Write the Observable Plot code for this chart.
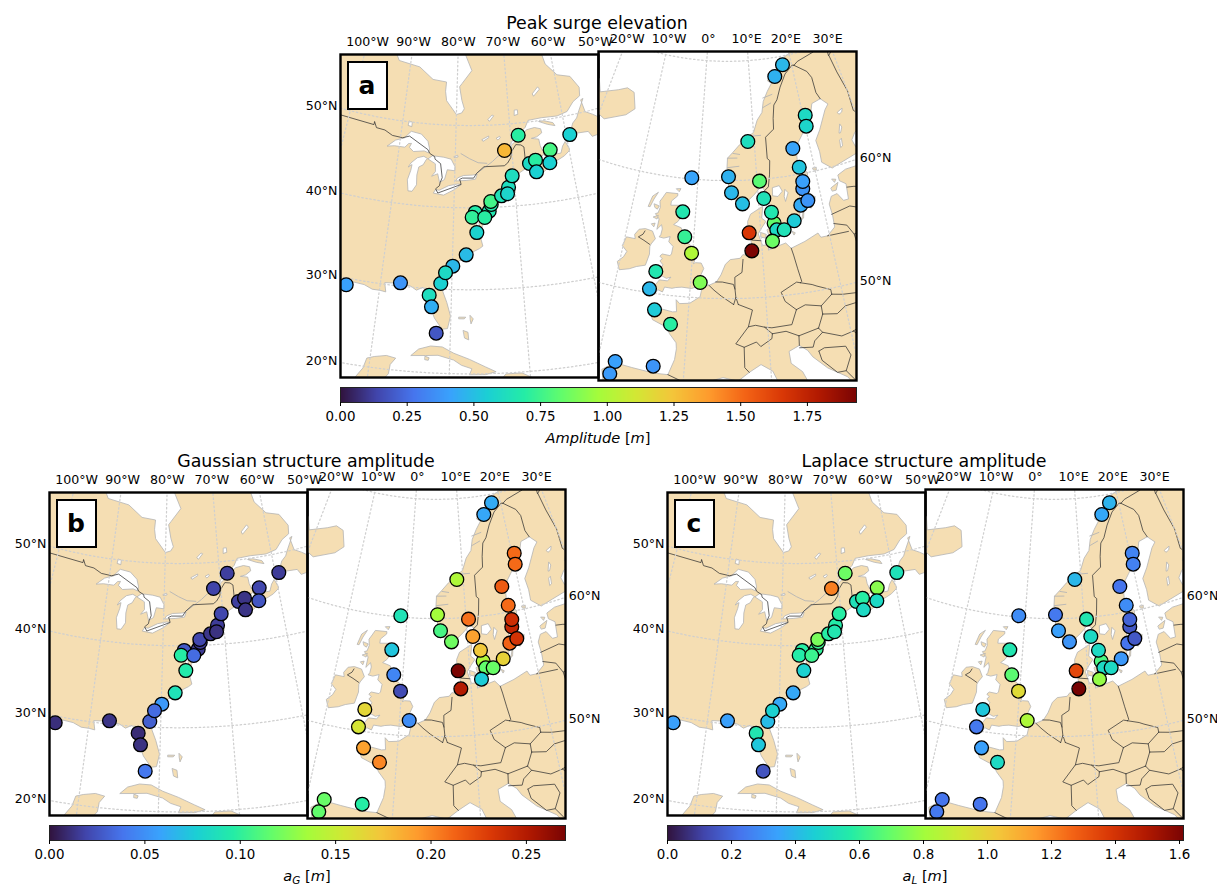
<!DOCTYPE html><html><head><meta charset="utf-8">
<script src="https://cdn.jsdelivr.net/npm/d3@7"></script>
<script src="https://cdn.jsdelivr.net/npm/@observablehq/plot@0.6"></script>
<style>
html,body{margin:0;background:#fff}
#fig{position:relative;width:1217px;height:884px;overflow:hidden;font-family:"DejaVu Sans",sans-serif;color:#000}
#fig>svg,#fig>div{position:absolute}
.ttl{font-size:17.4px;text-align:center;white-space:nowrap;transform:translateX(-50%)}
.cbl{font-size:14.6px;line-height:1.1;text-align:center;white-space:nowrap;transform:translateX(-50%)}
.cbl sub{font-size:10.5px;line-height:0;vertical-align:-2.5px}
.tag{box-sizing:border-box;background:#fff;border:2.4px solid #000;font-weight:bold;font-size:25px;display:flex;align-items:center;justify-content:center}
</style></head><body><div id="fig"></div>
<script>
// ---------- station data (lon/lat) ----------
const usLon=[-94.65,-87.21,-83.08,-82.67,-81.86,-81.55,-79.92,-80.94,-77.99,-76.38,-76.60,-74.37,-74.01,-77.08,-75.10,-74.06,-72.28,-71.04,-71.28,-70.29,-71.29,-68.61,-67.15,-66.05,-66.13,-63.26,-63.67,-59.35];
const usLat=[29.20,30.40,29.20,27.82,24.70,30.69,32.84,32.01,34.25,36.97,39.43,39.55,40.36,38.85,38.79,40.73,41.36,42.35,41.56,43.71,46.85,48.55,45.00,45.31,43.89,46.31,44.76,47.71];
const euLon=[17.93,15.72,20.46,20.17,8.81,16.91,17.44,-1.08,5.17,10.41,17.37,17.59,5.66,10.88,16.60,17.82,7.40,-2.01,12.13,11.89,15.21,12.42,13.52,8.25,-1.34,11.61,8.51,-0.16,-4.85,1.31,-5.35,-4.31,-2.10,-7.98,-3.58,-8.32];
const euLat=[69.29,68.44,64.78,63.86,63.26,62.24,60.58,60.11,60.33,59.85,58.73,59.34,58.97,58.35,57.39,57.67,58.01,57.16,56.18,57.13,56.17,55.60,55.53,55.53,55.07,54.68,53.99,53.73,51.86,51.30,50.33,48.64,47.60,43.85,43.96,42.77];
// peak surge elevation [m]
const ampUS=[.41,.37,.62,.45,.19,.56,.48,.6,.49,.57,.68,.66,.68,.72,.7,.76,.64,.62,.58,.62,1.29,.7,.6,.7,.56,.77,.56,.56];
const ampEU=[.48,.46,.6,.58,.62,.42,.52,.42,.46,.81,.37,.41,.48,.64,.44,.37,.5,.66,.83,.66,.54,.6,.64,1.66,.73,.85,1.93,1.0,.66,.89,.48,.54,.7,.41,.37,.39];
// Gaussian structure amplitude a_G [m]
const gaussUS=[.011,.013,.01,.012,.04,.03,.054,.035,.089,.095,.027,.015,.016,.097,.035,.02,.0135,.016,.012,.02,.019,.017,.017,.013,.013,.02,.026,.016];
const gaussEU=[.062,.06,.21,.21,.14,.216,.21,.09,.135,.208,.243,.238,.108,.19,.213,.235,.12,.073,.14,.173,.167,.116,.118,.27,.046,.076,.25,.022,.165,.049,.157,.19,.2,.118,.097,.116];
// Laplace structure amplitude a_L [m]
const lapUS=[.34,.34,.55,.44,.15,.41,.36,.47,.36,.47,.58,.6,.62,.57,.62,.73,.58,.57,.55,.58,1.21,.71,.53,.58,.5,.76,.5,.53];
const lapEU=[.39,.36,.27,.26,.4,.23,.29,.29,.24,.55,.16,.19,.34,.5,.23,.16,.31,.55,.65,.5,.32,.5,.5,1.34,.68,.78,1.62,.97,.44,.83,.24,.34,.5,.23,.23,.24];
// ---------- colour stops (turbo) ----------
const turbo=["#30123b","#4145ab","#4675ed","#39a2fc","#1bcfd4","#24eca6","#61fc6c","#a4fc3b","#d1e834","#f3c63a","#fe9b2d","#f36315","#d93806","#b11901","#7a0403"];
// ---------- ticks ----------
const usLonTicks=[-100,-90,-80,-70,-60,-50], usLatTicks=[20,30,40,50];
const euLonTicks=[-20,-10,0,10,20,30], euLatTicks=[50,60];
const ampTicks=[0,.25,.5,.75,1,1.25,1.5,1.75], gaussTicks=[0,.05,.1,.15,.2,.25], lapTicks=[0,.2,.4,.6,.8,1,1.2,1.4,1.6];
// ---------- geography (lon,lat rings) ----------
const naMain=[[-120,14],[-92,14],[-88,15.7],[-88.6,17.5],[-88.3,18.5],[-87.5,19.5],[-87.4,20.6],[-86.8,21.4],[-88,21.6],[-89.5,21.3],[-90.4,21],[-90.7,19.8],[-91.5,18.6],[-93,18.4],[-94.5,18.2],[-95.8,18.8],[-97,20],[-97.8,22.3],[-97.7,24.5],[-97.2,26],[-97.4,27.5],[-96,28.5],[-94.7,29.4],[-93.8,29.7],[-92.2,29.6],[-91,29.2],[-89.9,29.2],[-89.1,29.1],[-89.4,30.2],[-88,30.3],[-87,30.4],[-85.7,30.1],[-84.9,29.7],[-84,30.1],[-83,29.1],[-82.7,28],[-82.7,27.5],[-82.2,26.5],[-81.7,25.9],[-81.1,25.2],[-80.4,25.3],[-80.05,26.8],[-80.6,28.4],[-81.3,29.9],[-81.4,30.7],[-81.2,31.6],[-80.7,32.3],[-79.6,33],[-79,33.5],[-78,33.9],[-77,34.6],[-76,35],[-75.5,35.3],[-75.8,36.3],[-76,36.9],[-76.3,37],[-76.4,38],[-76.5,39.2],[-76,39.5],[-76,38],[-75.9,37.2],[-75.3,38],[-75.1,38.7],[-75.5,39.5],[-74.9,39],[-74.2,39.6],[-74,40.5],[-72.8,40.7],[-71.9,41.05],[-72.8,41.05],[-73.7,40.9],[-72.5,41.27],[-71.4,41.4],[-70.7,41.6],[-70,41.65],[-70,42.05],[-70.6,41.95],[-71,42.3],[-70.7,42.7],[-70.6,43.2],[-70.2,43.7],[-69,44],[-68,44.4],[-67,44.8],[-66.9,45.1],[-65.8,45.3],[-64.8,45.7],[-64.5,45.9],[-64.1,45.4],[-64.5,45.3],[-65.8,44.6],[-66.2,44],[-65.6,43.5],[-64.6,43.9],[-63.5,44.6],[-62,45],[-61,45.3],[-60,45.8],[-59.9,46],[-60.4,47],[-61,46.5],[-61.5,45.7],[-62.5,45.7],[-63.8,45.9],[-64.6,46.3],[-64.9,47],[-65,47.8],[-65.7,47.9],[-66.3,48],[-65.3,48.1],[-64.3,48.5],[-64.4,49],[-65.5,49.25],[-67,49.1],[-68,48.5],[-69.5,47.7],[-70.8,47],[-71.1,46.85],[-70.5,47.2],[-69.7,48],[-68.5,48.7],[-67.2,49.4],[-66.5,50.2],[-64,50.3],[-61,50.2],[-59,50.5],[-57.5,51.5],[-56,52],[-55.7,53],[-57,54.5],[-59.5,55],[-61.5,56.5],[-62,58],[-64,60],[-65,60.3],[-68,58.7],[-70,58.8],[-70,61],[-72,61.7],[-74,62.2],[-78,62.5],[-78,60.5],[-77.5,59],[-78.5,58.5],[-77,56.5],[-79,55],[-79.5,54.6],[-79,53],[-78.5,52],[-79,51.5],[-80,51.3],[-82,52.9],[-82.3,54],[-82.2,55.1],[-85,55.3],[-88,56.6],[-92.5,57],[-94.5,58.8],[-94.7,60],[-93,62],[-90,63.5],[-87,65],[-100,70],[-120,70]];
const newfoundland=[[-59.3,47.6],[-58,47.7],[-56,47.6],[-55.5,46.9],[-54,47],[-53.1,46.7],[-52.7,47.5],[-53.5,48.2],[-53,48.7],[-54.5,49.5],[-55.7,50],[-56,51.5],[-55.5,51.6],[-56.8,50.3],[-57.5,49.5],[-58.4,49],[-58.8,48.5]];
const anticosti=[[-64.5,49.9],[-63,49.4],[-61.7,49.1],[-62,49.5],[-63.6,49.9]];
const pei=[[-64.4,46.7],[-63,46.4],[-62,46.4],[-62.5,46],[-64,46.3]];
const cuba=[[-84.9,21.9],[-84,22.7],[-82.5,23.15],[-81,23.1],[-79.5,22.4],[-77.5,21.7],[-75.5,20.8],[-74.2,20.2],[-75.5,19.9],[-77.5,19.9],[-77.2,20.6],[-78.5,21],[-79.5,21.6],[-81.5,22.1],[-83,22]];
const hispaniola=[[-74.4,18.4],[-73,19.9],[-71,19.9],[-68.5,18.6],[-71,18]];
const jamaica=[[-78.3,18.4],[-76.3,18.1],[-77,17.8]];
const juventud=[[-83.1,21.9],[-82.6,21.75],[-82.7,21.45],[-83.1,21.5]];
const andros=[[-78.3,25.1],[-77.7,24.9],[-77.6,24],[-78.1,24.2]];
const grandBahama=[[-78.9,26.7],[-78,26.7],[-78.2,26.5],[-78.9,26.5]];
const abaco=[[-77.4,26.9],[-77,26.5],[-77.3,25.9],[-77.4,26.4]];
const superior=[[-92.1,46.75],[-90.8,46.9],[-89,46.9],[-88.4,47.4],[-87.9,47.45],[-88.2,46.95],[-87.4,46.5],[-85.5,46.7],[-84.7,46.5],[-84.6,47],[-85,47.9],[-86.3,48.7],[-88.2,48.9],[-89.3,48],[-90.8,47.6]];
const michigan=[[-87.6,41.7],[-86.9,41.7],[-86.3,42.5],[-86.4,43.7],[-86.2,44.7],[-85.5,45],[-85,45.7],[-84.8,45.8],[-85.5,46.05],[-86.6,45.8],[-87.6,45.1],[-88,44.55],[-87.4,44.9],[-87.5,44.2],[-87.9,43]];
const huron=[[-84.7,45.8],[-83.4,45.2],[-83.3,44.3],[-83.9,43.7],[-82.9,44.05],[-82.5,43],[-81.7,43.4],[-81.3,44.6],[-80,44.5],[-80,45],[-80.7,45.9],[-82,46.1],[-84,46.2]];
const erie=[[-83.4,41.7],[-81.7,41.5],[-80,42.2],[-78.9,42.85],[-79.5,42.9],[-81,42.65],[-82.5,42.05],[-83.1,42.1]];
const ontario=[[-79.8,43.3],[-78,43.35],[-76.5,43.5],[-76.2,44.1],[-77,44],[-78.5,43.95],[-79.5,43.65]];
const nipigon=[[-88.9,49.6],[-88.2,49.5],[-88.2,50],[-88.8,50.1]];
const mistassini=[[-74,50.7],[-73.2,51.2],[-72.9,51.1],[-73.7,50.5]];
const manicouagan=[[-69,51],[-68.3,51.1],[-68.3,51.6],[-68.9,51.6]];
const stJohn=[[-72.6,48.4],[-72,48.6],[-71.9,48.4],[-72.3,48.2]];
const gouin=[[-75.2,48.3],[-74,48.7],[-74,48.5],[-75,48.1]];
const michikamau=[[-65,53.3],[-63.8,54],[-63.5,53.7],[-64.8,53]];
const nipissing=[[-80.2,46.2],[-79.6,46.4],[-79.5,46.2],[-80,46.1]];
const usCanada=[[-110,49],[-95.15,49],[-95.15,49.38],[-94.6,48.7],[-93,48.6],[-91.5,48.1],[-89.6,48],[-88.4,48.3],[-84.9,46.9],[-84.5,46.45],[-83.6,46.1],[-83.5,45.8],[-82.5,45.3],[-82.1,43.6],[-82.4,43],[-82.5,42.6],[-83.1,42.2],[-82.7,41.7],[-78.9,42.85],[-79.05,43.27],[-79.2,43.45],[-78.7,43.63],[-76.8,43.63],[-76.3,44.2],[-75,45],[-74.7,45],[-71.5,45],[-70.9,45.3],[-70.3,45.9],[-70,46.7],[-69.2,47.45],[-68.3,47.35],[-67.8,47.07],[-67.8,45.7],[-67.45,45.3],[-67,44.8]];
const stLawrence=[[-76.3,44.2],[-74.5,45.1],[-73.5,45.6],[-72.5,46.2],[-71.2,46.8]];
const ottawaRiver=[[-74.5,45.4],[-76,45.5],[-77.5,46],[-79,46.6]];
const euMain=[[-5.6,36],[-6.3,36.7],[-7.4,37.2],[-8.9,37],[-8.8,38.4],[-9.5,38.8],[-8.9,40.2],[-8.7,41.5],[-8.9,42.1],[-9.3,43],[-8,43.75],[-6,43.6],[-4,43.45],[-3,43.4],[-1.8,43.4],[-1.2,44.7],[-1.1,45.6],[-1.2,46.1],[-2.1,46.8],[-2.5,47.3],[-4.4,47.8],[-4.8,48.4],[-3.5,48.8],[-2,48.65],[-1.5,48.7],[-1.7,49.7],[-1.2,49.4],[.1,49.5],[1.4,50.1],[1.6,50.9],[2.5,51.1],[3.5,51.4],[4.1,52],[4.7,52.9],[5.4,53.3],[6.8,53.4],[7.2,53.7],[8.2,53.6],[8.6,53.9],[8.9,54.1],[8.6,54.4],[8.4,55],[8.1,55.6],[8.1,56.5],[8.6,57.1],[10.6,57.7],[10.3,56.7],[10.9,56.4],[10.2,55.9],[9.6,55.4],[9.9,54.8],[10.1,54.4],[11,54.4],[10.9,53.95],[12.2,54.2],[13.5,54.4],[14.2,53.9],[16.3,54.3],[18.4,54.8],[18.7,54.4],[19.7,54.4],[21,55],[21.1,56],[21,57],[21.6,57.6],[22.6,57.7],[23.3,57],[24.1,57],[24.4,58.3],[23.5,58.7],[23.5,59.2],[25,59.5],[28,59.5],[30.2,59.9],[28.5,60.6],[25,60.2],[22.9,59.9],[21.4,60.6],[21.5,61.5],[21.3,62.5],[22.5,63.3],[24.5,64.8],[25.4,65.2],[24.2,65.8],[22.3,65.6],[21.4,64.6],[19,63.2],[17.5,62.3],[17.3,61],[17.2,60.7],[18.7,60],[18.2,59.3],[16.7,58.6],[16.6,57.5],[16,56.2],[14.5,56],[14.2,55.4],[12.9,55.4],[12.5,56.3],[11.9,57.5],[11.2,59],[10.6,59.4],[9.5,58.8],[8,58.1],[6.8,58],[5.6,58.8],[5.2,59.4],[5.1,60.3],[6,60.7],[4.9,61],[5,61.9],[6,62.4],[7.2,63],[8.5,63.5],[10,64],[10.9,65],[12,65.6],[12.5,66.5],[13.6,67.3],[14.7,67.9],[15.5,68.3],[16,68.9],[17.5,69.3],[18.7,69.9],[20,70.1],[21.7,70.2],[23.5,70.8],[25.7,71.1],[28,71],[31,70.3],[45,68],[60,60],[60,40],[26,40.5],[24,37.8],[22,36.5],[21,38.5],[19.4,40.5],[19.4,41.5],[18.5,42.5],[16.5,43.5],[15,44.6],[14.5,45.2],[13.6,45.7],[12.3,45.3],[12.4,44.3],[13.6,43.5],[14.2,42.4],[16,41.8],[18.4,40.2],[17,40.4],[16.5,39.7],[17.1,39],[16,38],[15.7,38.2],[16.2,39.5],[15,40.2],[14.3,40.8],[12.5,41.4],[11,42.4],[10.2,43.8],[8.9,44.4],[7.5,43.8],[6.2,43.1],[4.5,43.4],[3.1,43.1],[3.2,41.9],[.8,41],[-.3,39.5],[.2,38.7],[-.7,37.6],[-2,36.8],[-4.5,36.7]];
const britain=[[-5.7,50.07],[-5.1,49.97],[-4.2,50.35],[-3.6,50.22],[-3.4,50.65],[-2.4,50.62],[-1.9,50.72],[-1.1,50.8],[.2,50.75],[1,50.95],[1.4,51.15],[.7,51.45],[1.25,51.8],[1.7,52.5],[1.3,52.95],[.5,52.95],[.2,52.85],[.35,53.05],[.1,53.5],[-.2,53.7],[-.1,54.1],[-.5,54.45],[-1.2,54.65],[-1.6,55.2],[-2,55.8],[-3.2,56],[-2.6,56.3],[-2,56.9],[-1.8,57.5],[-2.3,57.7],[-4,57.6],[-4,57.95],[-3.1,58.45],[-3.1,58.65],[-5,58.62],[-5.4,58.2],[-5.8,57.8],[-5.6,57.3],[-5.8,56.8],[-6.2,56.7],[-5.5,56.3],[-5.6,55.4],[-5,55.85],[-4.8,55.5],[-4.9,55],[-5.1,54.8],[-4.4,54.75],[-3.5,54.95],[-3.6,54.5],[-2.9,54.15],[-3,53.5],[-3.2,53.35],[-4.3,53.4],[-4.6,53.2],[-4.2,53],[-4.5,52.8],[-4,52.5],[-4.2,52.25],[-5.2,51.9],[-4.3,51.65],[-3.3,51.4],[-2.7,51.55],[-3.1,51.2],[-4.2,51.2],[-4.5,50.9],[-5,50.4]];
const ireland=[[-6.1,53.2],[-6.4,52.25],[-7.6,52],[-8.5,51.7],[-9.8,51.45],[-10.3,52.1],[-9.6,52.6],[-9.3,53.1],[-10.1,53.5],[-9.8,54.3],[-8.5,54.3],[-8.7,54.65],[-8.2,55.15],[-7.3,55.3],[-6.2,55.2],[-5.6,54.6],[-6.1,54.1],[-6.2,53.9]];
const iceland=[[-24.3,65.5],[-22.5,66.4],[-21.3,65.4],[-18,66.1],[-16.3,66.5],[-14.7,66.3],[-13.6,65],[-15,64.3],[-18.7,63.4],[-21,63.8],[-22.7,63.9],[-22,64.5],[-24,64.9],[-22.2,65.2]];
const lewis=[[-6.3,58.5],[-7.1,58.1],[-7.5,57.2],[-7.2,57.2],[-6.8,57.9]];
const skye=[[-6.6,57.5],[-5.8,57.4],[-6,57.1],[-6.4,57.2]];
const mull=[[-6.4,56.4],[-5.7,56.6],[-5.8,56.3]];
const islay=[[-6.5,55.8],[-6,55.9],[-6.1,55.6]];
const orkney=[[-3.4,59.05],[-2.7,59.1],[-2.9,58.85]];
const shetland=[[-1.6,60.5],[-1,60.6],[-1.2,60],[-1.4,60.1]];
const vesteralen=[[14,68.2],[15.5,68.9],[16,68.5],[14.6,68]];
const senja=[[17,69.3],[18,69.5],[18,69.15],[17.2,69]];
const hitra=[[8.3,63.6],[9,63.65],[9,63.45],[8.5,63.4]];
const zealand=[[11,55.7],[12.5,56.1],[12.5,55.3],[12,55],[11.2,55.2]];
const funen=[[10,55.5],[10.8,55.3],[10.6,55],[10,55.1]];
const lolland=[[11,54.85],[12,54.75],[11.9,54.6],[11,54.65]];
const bornholm=[[14.7,55.3],[15.1,55.15],[14.9,55]];
const gotland=[[18.1,57],[18.3,57.9],[19.1,57.9],[18.8,57.4]];
const oland=[[16.4,56.2],[17.1,57.3],[16.7,56.3]];
const saaremaa=[[21.9,58.3],[23.2,58.6],[22.6,58],[22,58]];
const hiiumaa=[[22.4,59],[23,58.9],[22.7,58.7]];
const aland=[[19.7,60.3],[20.3,60.3],[20.2,60.05],[19.8,60.1]];
const corsica=[[8.6,42.5],[9.4,43],[9.5,42],[9.2,41.4],[8.7,41.8]];
const sardinia=[[8.2,41],[9.6,41],[9.6,39.2],[8.5,39]];
const vanern=[[12.5,59.2],[13.6,59.3],[14,58.8],[13.2,58.4],[12.4,58.5]];
const vattern=[[14.5,58.9],[14.9,58.6],[14.3,57.9],[14.2,58.3]];
const peipus=[[27.5,59],[28,58.2],[27.5,57.9],[27,58.4]];
const paijanne=[[25.3,61.4],[25.7,61.5],[25.9,62.1],[25.5,62]];
const saimaa=[[27.8,61.1],[29,61.5],[29.7,62.5],[28.5,62.2],[27.6,61.7]];
const oulujarvi=[[26.7,64.3],[27.8,64.5],[27.5,64.2],[26.9,64.1]];
const keitele=[[25.8,62.6],[26.4,63.3],[26.6,63],[26.1,62.6]];
const pielinen=[[29.3,63],[30,63.5],[29.9,63.1],[29.5,62.9]];
const sognefjord=[[5,61.1],[7,61.2]], hardanger=[[5.2,60],[6.5,60.4]], nordfjord=[[5,61.9],[6.7,61.9]], storfjord=[[6,62.3],[7.2,62.2]], trondheim=[[9.7,63.7],[11.3,63.7]], vestfjord=[[12.5,66.8],[14.5,67]], ranfjord=[[12.3,66],[14,66.3]];
const norSwe=[[11.1,59],[11.8,59.3],[12.2,60.3],[12.5,61.5],[12.1,61.7],[12.2,63.5],[13.9,64.1],[14.1,65],[14.6,66.1],[15.4,66.5],[16.5,67.5],[18.1,68.5],[20.1,69.1],[20.5,69.05]];
const sweFin=[[20.5,69.05],[23,68.3],[23.7,67.7],[23.7,66.4],[24.2,65.8]];
const norFin=[[20.5,69.05],[21.5,69.3],[25.7,69.7],[26,69.9],[27.9,70.1],[29,69.8],[28.8,69],[30.9,69.6]];
const finRus=[[28.9,69],[29.3,67.5],[30,65.7],[29.7,64],[31.5,62.9],[29,61.1],[27.8,60.5]];
const estRus=[[28,59.4],[27.4,58.7],[27.6,57.6]];
const estLat=[[24.4,58],[25.5,57.9],[27.5,57.5]];
const latLit=[[21,56.1],[24,56.4],[26.6,55.7]];
const latRus=[[27.6,57.5],[28.2,56.2],[26.6,55.7]];
const litSouth=[[21,55.3],[22.8,54.9],[23.5,54],[25.5,54.3],[26.6,55.7],[30,55.8]];
const kalPol=[[19.7,54.4],[22.8,54.35]];
const polEast=[[23.5,54],[23.6,52.6],[23.6,51.5],[24.1,50.6],[22.7,49.1]];
const gerPol=[[14.2,53.9],[14.4,53.3],[14.7,52.1],[15,51],[14.8,50.9]];
const gerCze=[[14.8,50.9],[14.3,51],[12.1,50.3],[12.5,49.5],[13.8,48.7]];
const czePol=[[14.8,50.9],[16.3,50.6],[16.9,50.4],[18.6,49.9],[18.6,49.5]];
const czeSvk=[[18.6,49.5],[17,48.7]];
const czeAut=[[13.8,48.7],[15,49],[17,48.7],[17,48]];
const svkPol=[[18.6,49.5],[20,49.3],[22.6,49.1]];
const svkHun=[[17,48],[18.8,47.8],[20,48.3],[22.2,48.4],[22.6,49.1]];
const hunRom=[[22.2,48.1],[21,46.3],[20.3,46.1]];
const autHun=[[17,48],[16.2,46.9]];
const autSlo=[[16.2,46.9],[13.7,46.5]];
const hunCro=[[16.2,46.9],[16.6,46.5],[18.8,45.9],[20.3,46.1]];
const croSlo=[[16.6,46.5],[15.5,45.9],[15.2,45.4],[13.6,45.5]];
const sloIta=[[13.7,46.5],[13.6,45.7]];
const bosnia=[[15.8,45],[16.5,45.2],[19,45],[19.4,44.2],[18.5,43],[17.5,43],[16,44.2],[15.8,45]];
const serRom=[[20.3,46.1],[21.5,45],[22.7,44.2]];
const serBul=[[22.7,44.2],[22.4,43],[23,42]];
const danube=[[22.7,44.2],[28,44]];
const albania=[[18.5,43],[19.4,42],[20,42.5],[21,42.3],[20.5,41],[21,40]];
const macedonia=[[21,42.3],[22.4,42.3],[23,41.3],[21,40.9]];
const itaAut=[[13.7,46.5],[12.2,47],[10.5,46.9]];
const swiss=[[10.5,46.9],[9.6,47.5],[8.5,47.7],[7.6,47.6],[6,46.2],[7,45.9],[8.5,46.3],[9,45.9],[10.4,46.5],[10.5,46.9]];
const fraIta=[[7,45.9],[7,44.2],[7.5,43.8]];
const gerAut=[[13.8,48.7],[13,47.5],[10.5,47.4],[9.6,47.5]];
const gerFra=[[7.6,47.6],[8.2,49],[6.4,49.5]];
const lux=[[6.4,49.5],[6.1,50.1],[5.8,49.5]];
const gerBen=[[6.1,50.1],[6,50.8],[6,51.8],[7,52.2],[7.2,53.3]];
const belNl=[[3.4,51.4],[4.3,51.4],[5.8,51.2],[6,50.8]];
const belFra=[[2.5,51.1],[3.2,50.7],[4.2,50.2],[5.8,49.5]];
const denGer=[[8.6,54.9],[9.9,54.8]];
const spaFra=[[-1.8,43.4],[.7,42.7],[3.2,42.4]];
const spaPor=[[-8.9,41.9],[-6.5,41.7],[-6.9,40],[-7.3,38.5],[-7.4,37.2]];
const niBorder=[[-7.3,55.1],[-7.5,54.8],[-8.1,54.5],[-7.2,54.3],[-6.3,54.05]];

// ---------- helpers ----------
function polygon(ring){
  const r=[...ring,ring[0]];
  let f={type:"Feature",geometry:{type:"Polygon",coordinates:[r]}};
  if(d3.geoArea(f)>2*Math.PI) f={type:"Feature",geometry:{type:"Polygon",coordinates:[r.slice().reverse()]}};
  return f;
}
const lines=a=>({type:"MultiLineString",coordinates:a});
const usLand=[naMain,newfoundland,anticosti,pei,cuba,hispaniola,jamaica,juventud,andros,grandBahama,abaco].map(polygon);
const usLakes=[superior,michigan,huron,erie,ontario,nipigon,mistassini,manicouagan,stJohn,gouin,michikamau,nipissing].map(polygon);
const usBorders=lines([usCanada]);
const usCoastExtra=lines([stLawrence,ottawaRiver]);
const euLand=[euMain,britain,ireland,iceland,lewis,skye,mull,islay,orkney,shetland,vesteralen,senja,hitra,zealand,funen,lolland,bornholm,gotland,oland,saaremaa,hiiumaa,aland,corsica,sardinia].map(polygon);
const euLakes=[vanern,vattern,peipus,paijanne,saimaa,oulujarvi,keitele,pielinen].map(polygon);
const euBorders=lines([norSwe,sweFin,norFin,finRus,estRus,estLat,latLit,latRus,litSouth,kalPol,polEast,gerPol,gerCze,czePol,czeSvk,czeAut,svkPol,svkHun,hunRom,autHun,autSlo,hunCro,croSlo,sloIta,bosnia,serRom,serBul,danube,albania,macedonia,itaAut,swiss,fraIta,gerAut,gerFra,lux,gerBen,belNl,belFra,denGer,spaFra,spaPor,niBorder]);
const euCoastExtra=lines([sognefjord,hardanger,nordfjord,storfjord,trondheim,vestfjord,ranfjord]);
const graticule=d3.geoGraticule().extent([[-180,0],[180,85]]).step([10,10]).precision(2.5)();

const fmtLon=v=>v===0?"0°":Math.abs(v)+"°"+(v<0?"W":"E");
const fmtLat=v=>v+"°N";
function bisect(f,a,b){let fa=f(a);for(let i=0;i<50;i++){const m=(a+b)/2,fm=f(m);if((fa<0)===(fm<0)){a=m;fa=fm}else b=m}return (a+b)/2}

function colorScale(max){return {type:"linear",domain:turbo.map((_,i)=>i/(turbo.length-1)*max),range:turbo,interpolate:"rgb"}}

const fig=document.getElementById("fig");
const M={l:52,r:52,t:26,b:6};
function mapPlot(o){
  const proj=d3.geoConicConformal().parallels([o.phi,o.phi]).rotate([-o.lam,0]).center([0,o.phi]).scale(o.k).translate([o.w/2,o.h/2]).precision(.2);
  const pts=o.lon.map((x,i)=>({lon:x,lat:o.lat[i],v:o.val[i]}));
  // labels sit on the meridian / parallel, extended beyond the frame
  const topT=o.lonTicks.map(l=>({l,lat:bisect(t=>proj([l,t])[1]+12.5,0,85)}));
  const left=o.side==="left";
  const edge=left?-8:o.w+5;
  const sideT=o.latTicks.map(l=>{
    const a=left?o.lam-80:o.lam, b=left?o.lam:o.lam+80;
    return {l,lon:bisect(t=>proj([t,l])[0]-edge,a,b)};
  });
  const svg=Plot.plot({
    width:o.w+M.l+M.r,height:o.h+M.t+M.b,marginLeft:M.l,marginRight:M.r,marginTop:M.t,marginBottom:M.b,
    style:{background:"transparent",fontFamily:"DejaVu Sans",overflow:"visible"},
    projection:{type:()=>proj,clip:false},
    color:colorScale(o.max),
    marks:[
      Plot.geo(o.land,{fill:"#f5deb3",stroke:"#b4b4b4",strokeWidth:.8,clip:"frame"}),
      Plot.geo(o.lakes,{fill:"#fff",stroke:"#b4b4b4",strokeWidth:.8,clip:"frame"}),
      Plot.geo(o.extra,{stroke:"#b4b4b4",strokeWidth:.9,fill:"none",clip:"frame"}),
      Plot.geo(o.borders,{stroke:"#333",strokeWidth:.75,fill:"none",clip:"frame"}),
      Plot.geo(graticule,{stroke:"#cfcfcf",strokeWidth:1.25,strokeDasharray:"1.5,2.6",fill:"none",clip:"frame"}),
      Plot.dot(pts,{x:"lon",y:"lat",r:6.9,fill:"v",stroke:"#000",strokeWidth:1.3,clip:"frame"}),
      Plot.frame({stroke:"#000",strokeWidth:2.4,fill:"none"}),
      Plot.text(topT,{x:"l",y:"lat",text:d=>fmtLon(d.l),fontSize:12.6,fill:"#000"}),
      Plot.text(sideT,{x:"lon",y:"l",text:d=>fmtLat(d.l),dx:left?-11:14,fontSize:12.6,fill:"#000"})
    ]
  });
  svg.style.left=(o.x-M.l)+"px";svg.style.top=(o.y-M.t)+"px";
  fig.appendChild(svg);
}
function colorbar(x,y,max,ticks,fmt,label,lx,ly){
  const n=516, ramp=d3.range(n).map(i=>({a:i/n*max,b:(i+1)/n*max}));
  const svg=Plot.plot({
    width:516+40,height:15+26,marginLeft:20,marginRight:20,marginTop:0,marginBottom:26,
    style:{background:"transparent",fontFamily:"DejaVu Sans",overflow:"visible"},
    x:{domain:[0,max],axis:null},y:{domain:[0,1],axis:null},
    color:colorScale(max),
    marks:[
      Plot.rect(ramp,{x1:"a",x2:"b",y1:0,y2:1,fill:d=>(d.a+d.b)/2,shapeRendering:"crispEdges"}),
      Plot.frame({stroke:"#222",strokeWidth:1,fill:"none"}),
      Plot.axisX({ticks,tickFormat:fmt,label:null,tickSize:4,tickPadding:5,fontSize:13.4,fill:"#000",stroke:"#000"})
    ]
  });
  svg.style.left=(x-20)+"px";svg.style.top=y+"px";
  fig.appendChild(svg);
  const d=document.createElement("div");d.className="cbl";d.innerHTML=label;d.style.left=lx+"px";d.style.top=ly+"px";fig.appendChild(d);
}
function panel(o){
  const dy=o.y, dx=o.x;
  mapPlot({x:dx,y:dy+3,w:258,h:323,phi:39,lam:-77.5,k:468,lon:usLon,lat:usLat,val:o.us,max:o.max,land:usLand,lakes:usLakes,borders:usBorders,extra:usCoastExtra,lonTicks:usLonTicks,latTicks:usLatTicks,side:"left"});
  mapPlot({x:dx+258,y:dy,w:258,h:329,phi:57,lam:5,k:675,lon:euLon,lat:euLat,val:o.eu,max:o.max,land:euLand,lakes:euLakes,borders:euBorders,extra:euCoastExtra,lonTicks:euLonTicks,latTicks:euLatTicks,side:"right"});
  const t=document.createElement("div");t.className="ttl";t.textContent=o.title;t.style.left=(dx+258-1)+"px";t.style.top=(dy-38.5)+"px";fig.appendChild(t);
  const b=document.createElement("div");b.className="tag";b.textContent=o.tag;
  Object.assign(b.style,{left:(dx+6.5)+"px",top:(dy+10)+"px",width:"41px",height:"49px"});fig.appendChild(b);
  colorbar(dx,dy+336,o.max,o.ticks,o.fmt,o.label,dx+258,dy+378.5);
}
panel({x:340,y:51,title:"Peak surge elevation",tag:"a",us:ampUS,eu:ampEU,max:1.934,ticks:ampTicks,fmt:d3.format(".2f"),label:"<i>Amplitude</i> [<i>m</i>]"});
panel({x:49,y:489,title:"Gaussian structure amplitude",tag:"b",us:gaussUS,eu:gaussEU,max:.2705,ticks:gaussTicks,fmt:d3.format(".2f"),label:"<i>a<sub>G</sub></i> [<i>m</i>]"});
panel({x:667,y:489,title:"Laplace structure amplitude",tag:"c",us:lapUS,eu:lapEU,max:1.6125,ticks:lapTicks,fmt:d3.format(".1f"),label:"<i>a<sub>L</sub></i> [<i>m</i>]"});
</script></body></html>
